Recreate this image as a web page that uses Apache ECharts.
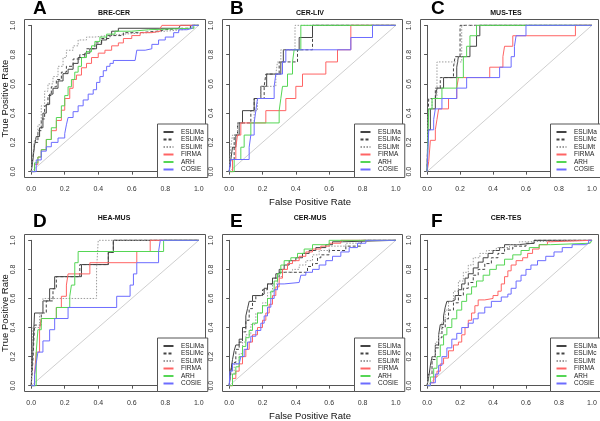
<!DOCTYPE html>
<html>
<head>
<meta charset="utf-8">
<script src="https://cdn.jsdelivr.net/npm/echarts@6/dist/echarts.min.js"></script>
<style>
  html, body { margin: 0; padding: 0; background: #fff; }
  #chart { width: 600px; height: 421px; }
</style>
</head>
<body>
<div id="chart"></div>
<script>
// ROC points [false positive rate, true positive rate]
// A: BRE-CER
const A_ESLiMa = [[0,0],[0.01,0.08],[0.02,0.18],[0.03,0.24],[0.05,0.3],[0.07,0.4],[0.09,0.46],[0.11,0.53],[0.13,0.57],[0.16,0.62],[0.19,0.67],[0.22,0.7],[0.25,0.74],[0.28,0.78],[0.32,0.81],[0.35,0.84],[0.39,0.87],[0.42,0.9],[0.45,0.93],[0.48,0.96],[0.52,0.98],[0.88,0.98],[0.89,1],[1,1]];
const A_ESLiMc = [[0,0],[0.01,0.1],[0.02,0.2],[0.04,0.28],[0.06,0.36],[0.08,0.45],[0.1,0.52],[0.12,0.58],[0.15,0.63],[0.18,0.68],[0.21,0.72],[0.25,0.77],[0.29,0.8],[0.33,0.84],[0.38,0.88],[0.42,0.91],[0.47,0.93],[0.55,0.95],[0.65,0.96],[0.75,0.97],[0.8,0.98],[0.9,0.98],[0.95,1],[1,1]];
const A_ESLiMt = [[0,0],[0.01,0.12],[0.02,0.22],[0.04,0.32],[0.06,0.45],[0.08,0.55],[0.1,0.6],[0.13,0.65],[0.16,0.72],[0.19,0.78],[0.21,0.83],[0.25,0.86],[0.28,0.9],[0.33,0.92],[0.38,0.93],[0.45,0.94],[0.55,0.95],[0.7,0.96],[0.8,0.97],[0.9,0.98],[0.97,1],[1,1]];
const A_FIRMA = [[0,0],[0.02,0.05],[0.04,0.1],[0.06,0.15],[0.09,0.22],[0.12,0.28],[0.15,0.35],[0.18,0.42],[0.2,0.5],[0.23,0.57],[0.25,0.63],[0.27,0.66],[0.3,0.71],[0.33,0.74],[0.36,0.78],[0.4,0.81],[0.44,0.83],[0.48,0.86],[0.52,0.88],[0.55,0.91],[0.6,0.93],[0.65,0.95],[0.72,0.96],[0.77,0.98],[0.78,1],[1,1]];
const A_ARH = [[0,0],[0.02,0.06],[0.04,0.1],[0.06,0.15],[0.09,0.22],[0.12,0.3],[0.15,0.37],[0.18,0.45],[0.2,0.52],[0.22,0.58],[0.24,0.63],[0.26,0.68],[0.28,0.72],[0.3,0.78],[0.33,0.82],[0.36,0.86],[0.38,0.89],[0.41,0.92],[0.45,0.94],[0.5,0.96],[0.6,0.97],[0.7,0.98],[0.95,0.98],[0.97,1],[1,1]];
const A_COSIE = [[0,0],[0.03,0.08],[0.06,0.14],[0.09,0.17],[0.12,0.2],[0.16,0.23],[0.2,0.26],[0.21,0.32],[0.22,0.37],[0.25,0.41],[0.28,0.45],[0.31,0.49],[0.34,0.53],[0.37,0.56],[0.39,0.61],[0.41,0.65],[0.43,0.69],[0.45,0.72],[0.47,0.74],[0.49,0.76],[0.62,0.76],[0.63,0.83],[0.68,0.84],[0.72,0.87],[0.76,0.9],[0.8,0.92],[0.85,0.95],[0.88,0.97],[0.93,0.98],[0.96,1],[1,1]];

// B: CER-LIV
const B_ESLiMa = [[0,0],[0.01,0.083],[0.02,0.167],[0.04,0.25],[0.06,0.333],[0.08,0.417],[0.15,0.5],[0.19,0.583],[0.225,0.667],[0.31,0.75],[0.325,0.833],[0.42,0.917],[0.5,1],[1,1]];
const B_ESLiMc = [[0,0],[0.01,0.083],[0.03,0.25],[0.05,0.333],[0.13,0.417],[0.15,0.5],[0.21,0.583],[0.22,0.667],[0.3,0.75],[0.41,0.833],[0.5,1],[1,1]];
const B_ESLiMt = [[0,0],[0.01,0.167],[0.02,0.25],[0.05,0.333],[0.15,0.417],[0.17,0.5],[0.19,0.583],[0.28,0.667],[0.29,0.75],[0.31,0.833],[0.395,1],[1,1]];
const B_FIRMA = [[0,0],[0.02,0.083],[0.04,0.167],[0.05,0.25],[0.07,0.333],[0.22,0.417],[0.34,0.5],[0.4,0.583],[0.44,0.667],[0.58,0.75],[0.65,0.833],[0.73,1],[1,1]];
const B_ARH = [[0,0],[0.03,0.083],[0.07,0.167],[0.09,0.25],[0.13,0.333],[0.3,0.417],[0.31,0.5],[0.32,0.583],[0.35,0.667],[0.38,0.75],[0.39,0.833],[0.43,1],[1,1]];
const B_COSIE = [[0,0],[0.01,0.083],[0.12,0.167],[0.13,0.25],[0.15,0.333],[0.16,0.417],[0.17,0.5],[0.27,0.583],[0.28,0.667],[0.32,0.75],[0.34,0.833],[0.73,0.917],[0.86,1],[1,1]];

// C: MUS-TES
const C_ESLiMa = [[0,0],[0.005,0.286],[0.02,0.429],[0.05,0.5],[0.06,0.571],[0.1,0.643],[0.18,0.714],[0.19,0.786],[0.26,0.857],[0.3,0.929],[0.32,1],[1,1]];
const C_ESLiMc = [[0,0],[0.005,0.357],[0.01,0.5],[0.05,0.571],[0.08,0.643],[0.16,0.714],[0.17,0.786],[0.2,1],[1,1]];
const C_ESLiMt = [[0,0],[0.005,0.357],[0.01,0.429],[0.03,0.5],[0.06,0.75],[0.21,1],[1,1]];
const C_FIRMA = [[0,0],[0.01,0.071],[0.02,0.214],[0.05,0.286],[0.06,0.357],[0.07,0.429],[0.13,0.5],[0.18,0.571],[0.19,0.643],[0.38,0.714],[0.46,0.786],[0.47,0.857],[0.52,0.929],[0.9,1],[1,1]];
const C_ARH = [[0,0],[0.005,0.214],[0.01,0.429],[0.03,0.5],[0.09,0.571],[0.18,0.643],[0.22,0.786],[0.24,0.857],[0.26,0.929],[0.3,1],[1,1]];
const C_COSIE = [[0,0],[0.005,0.143],[0.01,0.286],[0.04,0.357],[0.05,0.429],[0.09,0.5],[0.18,0.571],[0.24,0.643],[0.44,0.714],[0.51,0.786],[0.53,0.857],[0.54,0.929],[0.6,1],[1,1]];

// D: HEA-MUS
const D_ESLiMa = [[0,0],[0.01,0.25],[0.02,0.5],[0.07,0.583],[0.11,0.667],[0.14,0.75],[0.3,0.833],[0.46,0.917],[0.49,1],[1,1]];
const D_ESLiMc = [[0,0],[0.01,0.167],[0.02,0.417],[0.06,0.5],[0.09,0.583],[0.13,0.667],[0.15,0.75],[0.29,0.833],[0.46,0.917],[0.49,1],[1,1]];
const D_ESLiMt = [[0,0],[0.01,0.4],[0.05,0.5],[0.07,0.6],[0.39,0.8],[0.4,1],[1,1]];
const D_FIRMA = [[0,0],[0.02,0.077],[0.03,0.231],[0.05,0.385],[0.06,0.462],[0.15,0.538],[0.18,0.615],[0.21,0.692],[0.22,0.769],[0.35,0.846],[0.63,0.923],[0.71,1],[1,1]];
const D_ARH = [[0,0],[0.03,0.231],[0.04,0.385],[0.06,0.462],[0.15,0.538],[0.23,0.615],[0.24,0.692],[0.26,0.846],[0.28,0.923],[0.79,1],[1,1]];
const D_COSIE = [[0,0],[0.02,0.077],[0.03,0.154],[0.04,0.231],[0.07,0.308],[0.11,0.385],[0.14,0.462],[0.22,0.538],[0.51,0.615],[0.59,0.692],[0.61,0.769],[0.63,0.846],[0.76,0.923],[0.77,1],[1,1]];

// E: CER-MUS
const E_ESLiMa = [[0,0],[0.01,0.1],[0.02,0.18],[0.03,0.24],[0.04,0.28],[0.06,0.32],[0.08,0.4],[0.1,0.48],[0.11,0.53],[0.12,0.58],[0.14,0.62],[0.19,0.63],[0.21,0.67],[0.23,0.7],[0.26,0.74],[0.28,0.77],[0.3,0.8],[0.33,0.83],[0.36,0.86],[0.4,0.88],[0.44,0.91],[0.48,0.93],[0.52,0.95],[0.58,0.97],[0.62,0.99],[0.68,1],[1,1]];
const E_ESLiMc = [[0,0],[0.01,0.1],[0.02,0.16],[0.04,0.25],[0.06,0.3],[0.08,0.37],[0.1,0.45],[0.12,0.53],[0.14,0.58],[0.16,0.62],[0.2,0.66],[0.23,0.7],[0.26,0.74],[0.3,0.78],[0.45,0.78],[0.47,0.82],[0.5,0.84],[0.53,0.88],[0.55,0.9],[0.6,0.93],[0.7,0.96],[0.79,0.98],[0.8,1],[1,1]];
const E_ESLiMt = [[0,0],[0.01,0.08],[0.03,0.15],[0.06,0.22],[0.08,0.3],[0.1,0.35],[0.13,0.42],[0.16,0.5],[0.2,0.57],[0.23,0.64],[0.26,0.7],[0.29,0.75],[0.32,0.78],[0.38,0.8],[0.42,0.83],[0.46,0.86],[0.5,0.9],[0.54,0.93],[0.6,0.96],[0.7,0.98],[0.78,1],[1,1]];
const E_FIRMA = [[0,0],[0.02,0.05],[0.04,0.1],[0.06,0.15],[0.08,0.2],[0.1,0.25],[0.12,0.3],[0.14,0.35],[0.17,0.4],[0.2,0.45],[0.22,0.5],[0.24,0.56],[0.26,0.62],[0.28,0.68],[0.3,0.74],[0.32,0.8],[0.35,0.84],[0.38,0.86],[0.42,0.89],[0.46,0.92],[0.5,0.94],[0.55,0.96],[0.6,0.98],[0.67,1],[1,1]];
const E_ARH = [[0,0],[0.02,0.08],[0.04,0.13],[0.06,0.2],[0.08,0.27],[0.1,0.33],[0.12,0.38],[0.14,0.43],[0.17,0.5],[0.2,0.55],[0.23,0.6],[0.25,0.65],[0.27,0.72],[0.29,0.77],[0.31,0.83],[0.33,0.86],[0.37,0.88],[0.41,0.91],[0.45,0.94],[0.5,0.97],[0.6,1],[1,1]];
const E_COSIE = [[0,0],[0.005,0.1],[0.02,0.15],[0.06,0.15],[0.07,0.2],[0.09,0.25],[0.11,0.3],[0.13,0.34],[0.16,0.38],[0.19,0.43],[0.21,0.48],[0.23,0.54],[0.25,0.6],[0.27,0.66],[0.29,0.7],[0.33,0.71],[0.42,0.71],[0.43,0.76],[0.46,0.78],[0.5,0.8],[0.54,0.83],[0.58,0.86],[0.62,0.89],[0.67,0.92],[0.72,0.95],[0.77,0.98],[0.82,1],[1,1]];

// F: CER-TES
const F_ESLiMa = [[0,0],[0.01,0.06],[0.02,0.14],[0.03,0.2],[0.05,0.28],[0.07,0.35],[0.08,0.42],[0.1,0.48],[0.11,0.54],[0.12,0.58],[0.15,0.59],[0.17,0.62],[0.19,0.66],[0.21,0.7],[0.23,0.74],[0.25,0.77],[0.28,0.81],[0.31,0.85],[0.34,0.88],[0.37,0.91],[0.4,0.93],[0.44,0.95],[0.47,0.97],[0.55,0.98],[0.65,1],[1,1]];
const F_ESLiMc = [[0,0],[0.01,0.08],[0.03,0.18],[0.05,0.26],[0.07,0.33],[0.09,0.4],[0.11,0.46],[0.13,0.52],[0.16,0.57],[0.19,0.62],[0.22,0.67],[0.25,0.71],[0.28,0.76],[0.31,0.8],[0.35,0.84],[0.39,0.88],[0.43,0.91],[0.47,0.94],[0.52,0.96],[0.6,0.98],[0.65,1],[1,1]];
const F_ESLiMt = [[0,0],[0.01,0.08],[0.03,0.2],[0.05,0.3],[0.07,0.36],[0.09,0.44],[0.11,0.52],[0.13,0.58],[0.16,0.65],[0.19,0.72],[0.22,0.78],[0.25,0.83],[0.28,0.88],[0.32,0.91],[0.36,0.93],[0.42,0.95],[0.5,0.97],[0.56,0.99],[0.6,1],[1,1]];
const F_FIRMA = [[0,0],[0.02,0.02],[0.04,0.06],[0.06,0.1],[0.08,0.15],[0.1,0.19],[0.13,0.24],[0.16,0.28],[0.19,0.3],[0.21,0.35],[0.23,0.4],[0.25,0.45],[0.27,0.5],[0.29,0.55],[0.31,0.59],[0.35,0.6],[0.4,0.62],[0.43,0.65],[0.45,0.7],[0.47,0.75],[0.49,0.79],[0.51,0.83],[0.54,0.86],[0.58,0.88],[0.61,0.91],[0.64,0.94],[0.68,0.97],[0.73,0.99],[0.75,1],[1,1]];
const F_ARH = [[0,0],[0.02,0.06],[0.04,0.12],[0.06,0.2],[0.08,0.28],[0.1,0.35],[0.12,0.4],[0.15,0.46],[0.18,0.52],[0.21,0.58],[0.24,0.63],[0.27,0.68],[0.3,0.72],[0.34,0.76],[0.38,0.8],[0.42,0.83],[0.47,0.87],[0.52,0.9],[0.57,0.93],[0.62,0.95],[0.68,0.97],[0.75,0.98],[0.99,0.98],[1,1]];
const F_COSIE = [[0,0],[0.02,0.02],[0.05,0.08],[0.07,0.14],[0.09,0.2],[0.12,0.26],[0.15,0.32],[0.18,0.36],[0.21,0.4],[0.25,0.43],[0.28,0.46],[0.31,0.5],[0.35,0.54],[0.39,0.58],[0.45,0.61],[0.49,0.63],[0.51,0.67],[0.54,0.72],[0.57,0.76],[0.6,0.8],[0.63,0.83],[0.67,0.86],[0.72,0.89],[0.77,0.92],[0.82,0.95],[0.88,0.97],[0.96,0.98],[0.98,1],[1,1]];

const methods = ['ESLiMa', 'ESLiMc', 'ESLiMt', 'FIRMA', 'ARH', 'COSIE'];
const panelLetters = ['A', 'B', 'C', 'D', 'E', 'F'];
const panelTitles = ['BRE-CER', 'CER-LIV', 'MUS-TES', 'HEA-MUS', 'CER-MUS', 'CER-TES'];
const tickValues = [0, 0.2, 0.4, 0.6, 0.8, 1];
const diagonal = [[0, 0], [1, 1]];

const panelData = [
  [A_ESLiMa, A_ESLiMc, A_ESLiMt, A_FIRMA, A_ARH, A_COSIE],
  [B_ESLiMa, B_ESLiMc, B_ESLiMt, B_FIRMA, B_ARH, B_COSIE],
  [C_ESLiMa, C_ESLiMc, C_ESLiMt, C_FIRMA, C_ARH, C_COSIE],
  [D_ESLiMa, D_ESLiMc, D_ESLiMt, D_FIRMA, D_ARH, D_COSIE],
  [E_ESLiMa, E_ESLiMc, E_ESLiMt, E_FIRMA, E_ARH, E_COSIE],
  [F_ESLiMa, F_ESLiMc, F_ESLiMt, F_FIRMA, F_ARH, F_COSIE]
];

const lineLook = {
  ESLiMa: { color: '#444444', type: 'solid' },
  ESLiMc: { color: '#444444', type: [3, 2] },
  ESLiMt: { color: '#9c9c9c', type: [1.5, 1.5] },
  FIRMA: { color: '#ff6464', type: 'solid' },
  ARH: { color: '#55d655', type: 'solid' },
  COSIE: { color: '#6c6cff', type: 'solid' }
};

const FONT = 'Liberation Sans, Arial, Helvetica, sans-serif';

// panel boxes (plot region incl. the 4% padding R adds)
const colLeft = [24.5, 222.5, 420.5];
const colWidth = [181, 180, 178];
const rowTop = [19.5, 234.5];
const rowHeight = [158, 157];

const grid = [], xAxis = [], yAxis = [], series = [], legend = [], graphic = [];

for (let p = 0; p < 6; p++) {
  const r = Math.floor(p / 3), c = p % 3;
  const L = colLeft[c], W = colWidth[c], T = rowTop[r], H = rowHeight[r];
  const sx = W / 1.08, sy = H / 1.08;

  // box grid holding the curves
  grid.push({ left: L, top: T, width: W, height: H, show: true, borderColor: '#555', borderWidth: 1, backgroundColor: 'transparent' });
  xAxis.push({ gridIndex: 2 * p, type: 'value', min: -0.04, max: 1.04, show: false });
  yAxis.push({ gridIndex: 2 * p, type: 'value', min: -0.04, max: 1.04, show: false });

  // axis grid spanning exactly 0..1, just for ticks and labels
  grid.push({ left: L + 0.04 * sx, top: T + 0.04 * sy, width: sx, height: sy, show: false });
  xAxis.push({
    gridIndex: 2 * p + 1, type: 'value', min: 0, max: 1, interval: 0.2,
    position: 'bottom', offset: 0.04 * sy + 3,
    axisLine: { show: true, lineStyle: { color: '#555', width: 1 } },
    axisTick: { show: true, length: 3, lineStyle: { color: '#555' } },
    axisLabel: { fontSize: 7, color: '#333', fontFamily: FONT, margin: 5, formatter: v => v.toFixed(1) },
    splitLine: { show: false }
  });
  yAxis.push({
    gridIndex: 2 * p + 1, type: 'value', min: 0, max: 1, interval: 0.2,
    position: 'left', offset: 0.04 * sx + 3,
    axisLine: { show: true, lineStyle: { color: '#555', width: 1 } },
    axisTick: { show: true, length: 3, lineStyle: { color: '#555' } },
    axisLabel: { fontSize: 7, color: '#333', fontFamily: FONT, margin: 5, rotate: 90, formatter: v => v.toFixed(1) },
    splitLine: { show: false }
  });

  series.push({
    name: 'diagonal', type: 'line', xAxisIndex: 2 * p, yAxisIndex: 2 * p,
    data: diagonal, symbol: 'none', silent: true,
    lineStyle: { color: '#cfcfcf', width: 1 }, z: 1
  });
  methods.forEach((m, k) => {
    series.push({
      name: m, type: 'line', xAxisIndex: 2 * p, yAxisIndex: 2 * p,
      data: panelData[p][k], step: 'end', symbol: 'none', showSymbol: false, silent: true,
      color: lineLook[m].color,
      lineStyle: { color: lineLook[m].color, type: lineLook[m].type, width: 1 },
      z: 2 + k
    });
  });

  legend.push({
    orient: 'vertical', left: L + W - 48, top: T + H - 53.5,
    data: methods, selectedMode: false,
    itemWidth: 10, itemHeight: 7, itemGap: 0.5,
    padding: [4.5, 4, 4.5, 5],
    backgroundColor: '#fff', borderColor: '#555', borderWidth: 1, borderRadius: 0,
    itemStyle: { color: 'transparent', borderWidth: 0, opacity: 0 },
    textStyle: { fontSize: 6.5, fontFamily: FONT, color: '#222', lineHeight: 7, padding: [0, 0, 0, 2.5] },
    z: 20
  });

  graphic.push({
    type: 'text',
    x: [33, 230, 431][c], y: [9, 222][r],
    style: { text: panelLetters[p], font: 'bold 19px ' + FONT, fill: '#000', textAlign: 'left', textVerticalAlign: 'middle', verticalAlign: 'middle' }
  });
  graphic.push({
    type: 'text',
    x: [114, 310, 506][c], y: [13.5, 218.5][r],
    style: { text: panelTitles[p], font: 'bold 7px ' + FONT, fill: '#111', textAlign: 'center', textVerticalAlign: 'middle', verticalAlign: 'middle', align: 'center' }
  });
}

// axis titles only on the outer panels, like the figure
[98.5, 313].forEach(cy => {
  graphic.push({
    type: 'text', x: 5.5, y: cy, rotation: Math.PI / 2,
    style: { text: 'True Positive Rate', font: '9.5px ' + FONT, fill: '#111', textAlign: 'center', textVerticalAlign: 'middle', verticalAlign: 'middle', align: 'center' }
  });
});
[202, 416.5].forEach(cy => {
  graphic.push({
    type: 'text', x: 310, y: cy,
    style: { text: 'False Positive Rate', font: '9.5px ' + FONT, fill: '#111', textAlign: 'center', textVerticalAlign: 'middle', verticalAlign: 'middle', align: 'center' }
  });
});

const chart = echarts.init(document.getElementById('chart'), null, { renderer: 'canvas' });
chart.setOption({
  animation: false,
  backgroundColor: '#fff',
  grid: grid,
  xAxis: xAxis,
  yAxis: yAxis,
  legend: legend,
  series: series,
  graphic: graphic
});
</script>
</body>
</html>
